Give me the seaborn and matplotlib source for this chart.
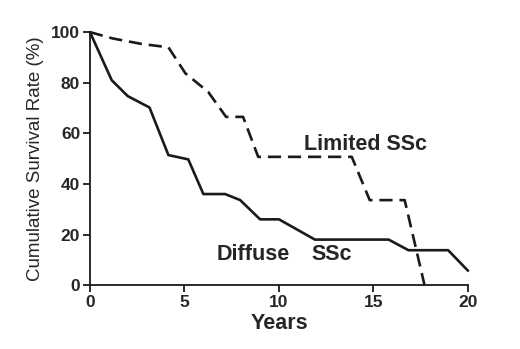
import numpy as np
import pandas as pd
import matplotlib
matplotlib.use("Agg")
import matplotlib.pyplot as plt
import seaborn as sns

# survival curves
diffuse_years = [0, 1.15, 2.0, 3.15, 4.15, 5.2, 6.0, 7.15, 7.95, 9.0, 10.0, 11.9, 15.8, 16.85, 18.95, 20.0]
diffuse_rate = [100, 81, 74.7, 70.2, 51.4, 49.7, 36, 36, 33.6, 26, 26, 18, 18, 13.8, 13.8, 5.7]

limited_years = [0, 1.2, 2.75, 4.15, 5.05, 6.25, 7.2, 8.1, 8.9, 13.85, 14.8, 16.65, 17.7]
limited_rate = [100, 97.5, 95.3, 94, 83.7, 76.4, 66.5, 66.5, 50.7, 50.7, 33.6, 33.6, 0]

x_ticks = [0, 5, 10, 15, 20]
y_ticks = [0, 20, 40, 60, 80, 100]

df_d = pd.DataFrame({"years": diffuse_years, "rate": diffuse_rate})
df_l = pd.DataFrame({"years": limited_years, "rate": limited_rate})

sns.set_style("ticks")
plt.rcParams['font.family'] = ['Liberation Sans', 'DejaVu Sans']

fig = plt.figure(figsize=(5.2, 3.49), dpi=100)
ax = fig.add_axes([0.173, 0.183, 0.727, 0.725])

sns.lineplot(data=df_d, x="years", y="rate", color="#1a1a1a", lw=1.9, ax=ax,
             estimator=None, sort=False)
sns.lineplot(data=df_l, x="years", y="rate", color="#1a1a1a", lw=1.9, ax=ax,
             estimator=None, sort=False, dashes=False)
ax.lines[1].set_dashes([5, 2.6])
for ln in ax.lines:
    ln.set_clip_on(False)

ax.set_xlim(0, 20)
ax.set_ylim(0, 100)
ax.set_xticks(x_ticks)
ax.set_yticks(y_ticks)
ax.tick_params(axis="both", direction="out", length=5, width=1.3, color="#1a1a1a",
               labelsize=12.5, pad=2)
for lab in ax.get_xticklabels() + ax.get_yticklabels():
    lab.set_fontweight("bold")
sns.despine(ax=ax)
for s in ["left", "bottom"]:
    ax.spines[s].set_linewidth(1.3)
    ax.spines[s].set_color("#1a1a1a")

ax.set_xlabel("Years", fontsize=15.5, fontweight="bold", labelpad=2)
ax.set_ylabel("Cumulative Survival Rate (%)", fontsize=13.5, labelpad=5)

ax.text(11.3, 55.5, "Limited SSc", fontsize=15.5, fontweight="bold", va="center")
ax.text(6.7, 12, "Diffuse", fontsize=15.5, fontweight="bold", va="center")
ax.text(11.7, 12, "SSc", fontsize=15.5, fontweight="bold", va="center")

fig.savefig("out.png", dpi=100)
